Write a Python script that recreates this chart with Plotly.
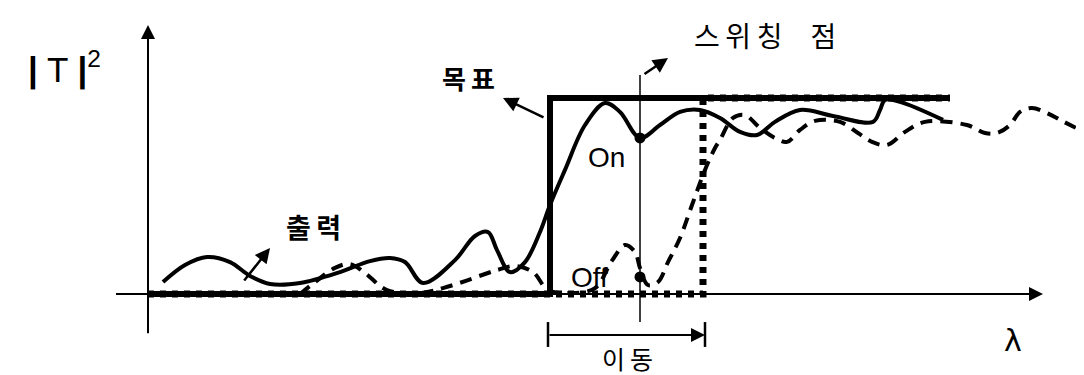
import plotly.graph_objects as go

# wavelength (arbitrary units) and transmission |T|^2 (target = 1)
target_x = [0, 4.02, 4.02, 8.02]
target_y = [0, 0, 1, 1]

shifted_x = [0, 5.55, 5.55, 8.02]
shifted_y = [0, 0, 1, 1]

out_x = [0.15, 0.37, 0.59, 0.82, 1.02, 1.22, 1.52, 1.92, 2.22, 2.42, 2.57, 2.75,
         3.07, 3.27, 3.40, 3.49, 3.62, 3.77, 3.92, 4.02, 4.17, 4.37, 4.57, 4.72,
         4.92, 5.12, 5.32, 5.52, 5.72, 5.92, 6.09, 6.27, 6.52, 6.85, 7.25, 7.32,
         7.37, 7.52, 7.95]
out_y = [0.061, 0.148, 0.189, 0.163, 0.092, 0.051, 0.056, 0.112, 0.168, 0.184, 0.163, 0.056,
         0.173, 0.296, 0.316, 0.224, 0.112, 0.163, 0.316, 0.454, 0.633, 0.862, 0.974, 0.929,
         0.796, 0.862, 0.929, 0.939, 0.898, 0.827, 0.811, 0.878, 0.939, 0.908, 0.878, 0.939,
         0.99, 0.98, 0.888]

moved_x = [1.52, 1.67, 1.87, 2.02, 2.17, 2.39, 2.72, 3.02, 3.49, 3.67, 3.85, 4.00,
           4.22, 4.47, 4.64, 4.77, 4.87, 4.92, 5.00, 5.10, 5.20, 5.32, 5.44, 5.57,
           5.67, 5.72, 5.85, 5.97, 6.12, 6.27, 6.39, 6.52, 6.67, 6.92, 7.10, 7.24,
           7.39, 7.57, 7.77, 8.19, 8.37, 8.49, 8.62, 8.72, 8.84, 8.99, 9.14, 9.32]
moved_y = [0, 0.061, 0.133, 0.153, 0.107, 0.02, 0.005, 0.041, 0.122, 0.143, 0.112, 0.02,
           0.005, 0.03, 0.17, 0.25, 0.214, 0.133, 0.046, 0.061, 0.163, 0.286, 0.454, 0.633,
           0.745, 0.786, 0.898, 0.913, 0.847, 0.796, 0.776, 0.837, 0.883, 0.878, 0.821, 0.776,
           0.76, 0.827, 0.878, 0.862, 0.821, 0.821, 0.862, 0.929, 0.949, 0.923, 0.883, 0.837]

switch_x = 4.92
on_y = 0.796
off_y = 0.087

KR = "Noto Sans CJK KR"
LAT = "Liberation Sans"

fig = go.Figure()

# axes drawn as lines
fig.add_trace(go.Scatter(x=[0, 0], y=[-0.2, 1.3], mode='lines',
                         line=dict(color='black', width=2), hoverinfo='skip'))
fig.add_trace(go.Scatter(x=[-0.32, 8.85], y=[0, 0], mode='lines',
                         line=dict(color='black', width=2), hoverinfo='skip'))

# switching point line
fig.add_trace(go.Scatter(x=[switch_x, switch_x], y=[-0.143, 1.117], mode='lines',
                         line=dict(color='black', width=1.5), hoverinfo='skip'))

# shifted target (dotted)
fig.add_trace(go.Scatter(x=shifted_x, y=shifted_y, mode='lines',
                         line=dict(color='black', width=7, dash='6px,6px'), hoverinfo='skip'))

# target (thick solid)
fig.add_trace(go.Scatter(x=target_x, y=target_y, mode='lines',
                         line=dict(color='black', width=6), hoverinfo='skip'))

# shifted output (dashed)
fig.add_trace(go.Scatter(x=moved_x, y=moved_y, mode='lines', line_shape='spline',
                         line=dict(color='black', width=4, dash='12px,8px'), hoverinfo='skip'))

# output (solid)
fig.add_trace(go.Scatter(x=out_x, y=out_y, mode='lines', line_shape='spline',
                         line=dict(color='black', width=4), hoverinfo='skip'))

# on / off points
fig.add_trace(go.Scatter(x=[switch_x, switch_x], y=[on_y, off_y], mode='markers',
                         marker=dict(color='black', size=11), hoverinfo='skip'))

def arrow(x0, y0, x1, y1, head=2, size=1.2, w=2):
    fig.add_annotation(x=x1, y=y1, ax=x0, ay=y0, xref='x', yref='y', axref='x', ayref='y',
                       text='', showarrow=True, arrowhead=head, arrowsize=size,
                       arrowwidth=w, arrowcolor='black')

# axis arrowheads
arrow(0, 1.2, 0, 1.372, head=2, size=1.4, w=2)
arrow(8.7, 0, 8.95, 0, head=2, size=1.4, w=2)

# label arrows
arrow(0.95, 0.061, 1.22, 0.235, head=2, size=1.2, w=2.5)
arrow(3.97, 0.898, 3.55, 1.0, head=2, size=1.2, w=2.5)
arrow(4.95, 1.117, 5.2, 1.204, head=2, size=1.2, w=2.5)

# shift arrow with end bars
arrow(4.0, -0.209, 5.57, -0.209, head=2, size=1.4, w=2)
for bx in [4.0, 5.57]:
    fig.add_trace(go.Scatter(x=[bx, bx], y=[-0.143, -0.27], mode='lines',
                             line=dict(color='black', width=2.5), hoverinfo='skip'))

def label(x, y, t, font, size):
    fig.add_annotation(x=x, y=y, xref='x', yref='y', text=t, showarrow=False,
                       font=dict(family=font, size=size, color='black'))

label(-0.835, 1.158, '<b>|</b> T <b>|</b><sup>2</sup>', LAT, 35)
label(1.65, 0.342, '<b>출\u2009력</b>', KR, 27)
label(3.2, 1.102, '<b>목\u2009표</b>', KR, 26)
label(6.17, 1.321, '스\u2009위\u2009칭\u2003점', KR, 28)
label(4.58, 0.694, 'On', LAT, 28)
label(4.41, 0.082, 'Off', LAT, 28)
label(4.79, -0.325, '이\u2009동', KR, 25)
label(8.65, -0.235, 'λ', 'DejaVu Sans', 30)

# page body adds an 8px offset, ranges compensate for it
fig.update_layout(
    width=1084, height=375,
    margin=dict(l=0, r=0, t=0, b=0),
    plot_bgcolor='white', paper_bgcolor='white',
    showlegend=False,
    xaxis=dict(range=[-1.40, 9.44], visible=False, fixedrange=True),
    yaxis=dict(range=[-0.454, 1.459], visible=False, fixedrange=True),
)

fig.write_html("out.html")
